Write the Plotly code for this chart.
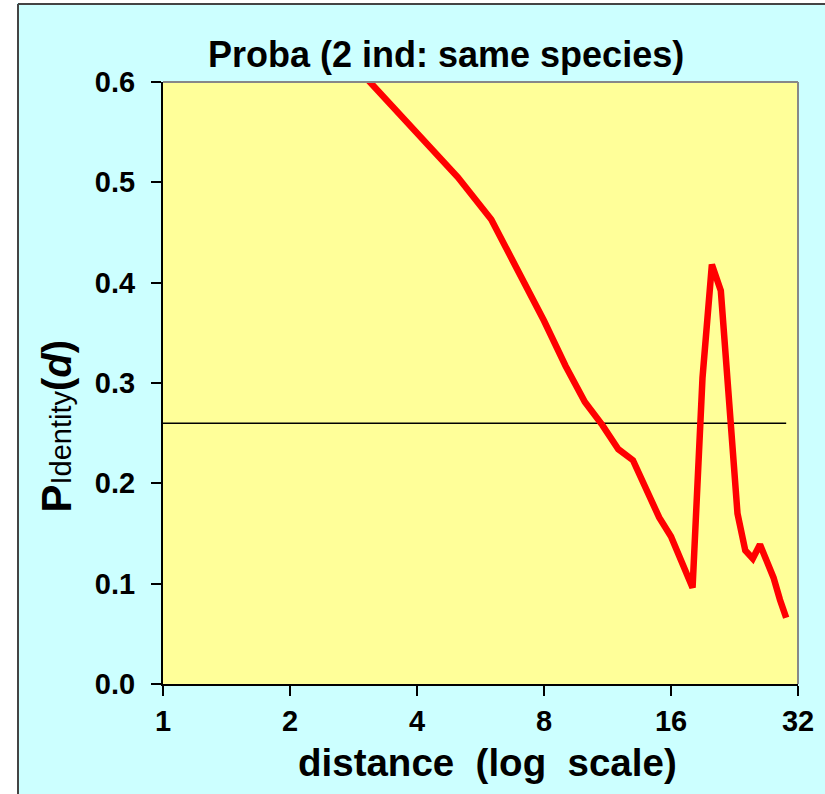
import plotly.graph_objects as go

# ---- data ----
distance = [1, 2, 3, 4, 5, 6, 7, 8, 9, 10, 11, 12, 13, 14, 15,
            16, 17, 18, 19, 20, 21, 22, 23, 24, 25, 26, 27, 28, 29, 30]
p_identity = [0.80, 0.67, 0.606, 0.548, 0.505, 0.463, 0.410, 0.362, 0.317, 0.281,
              0.258, 0.234, 0.223, 0.195, 0.166, 0.147, 0.121, 0.096, 0.305, 0.418,
              0.392, 0.280, 0.170, 0.133, 0.125, 0.139, 0.122, 0.106, 0.084, 0.066]
threshold_x = [1, 30]
threshold_y = [0.26, 0.26]
x_tickvals = [1, 2, 4, 8, 16, 32]
x_ticktext = ["1", "2", "4", "8", "16", "32"]
y_tickvals = [0.0, 0.1, 0.2, 0.3, 0.4, 0.5, 0.6]
y_ticktext = ["0.0", "0.1", "0.2", "0.3", "0.4", "0.5", "0.6"]

FONT = "Liberation Sans, Arial, sans-serif"
OFF = 0  # body margin removed by post_script
W, H = 825 - OFF, 794 - OFF
# plot area in page pixels: x 163..798, y 82..684
L = 163 - OFF
T = 82 - OFF
R = W - (798 - OFF)
B = H - (684 - OFF)
PW, PH = W - L - R, H - T - B

def px2x(px):
    return (px - OFF - L) / PW

def px2y(py):
    return (H - B - (py - OFF)) / PH

fig = go.Figure()
fig.add_trace(go.Scatter(x=threshold_x, y=threshold_y, mode="lines",
                         line=dict(color="black", width=1.5), hoverinfo="skip"))
fig.add_trace(go.Scatter(x=distance, y=p_identity, mode="lines",
                         line=dict(color="#FF0000", width=6.5)))

shapes = [
    dict(type="rect", xref="paper", yref="paper", x0=px2x(-10), x1=px2x(17),
         y0=px2y(810), y1=px2y(-10), fillcolor="white", line=dict(width=0), layer="below"),
    dict(type="rect", xref="paper", yref="paper", x0=px2x(-10), x1=px2x(840),
         y0=px2y(3), y1=px2y(-10), fillcolor="white", line=dict(width=0), layer="below"),
    dict(type="line", xref="paper", yref="paper", x0=px2x(18), x1=px2x(18),
         y0=px2y(4), y1=px2y(810), line=dict(color="#444444", width=2)),
    dict(type="line", xref="paper", yref="paper", x0=px2x(18), x1=px2x(840),
         y0=px2y(4), y1=px2y(4), line=dict(color="#444444", width=2)),
    dict(type="line", xref="paper", yref="paper", x0=0, x1=1, y0=1, y1=1,
         line=dict(color="#888888", width=2)),
    dict(type="line", xref="paper", yref="paper", x0=1, x1=1, y0=0, y1=1,
         line=dict(color="#888888", width=2)),
]

annotations = [
    dict(text="<b>Proba (2 ind: same species)</b>", xref="paper", yref="paper",
         x=px2x(445.5), y=px2y(55), xanchor="center", yanchor="middle", showarrow=False,
         font=dict(family=FONT, size=36, color="black")),
    dict(text="<b>distance  (log  scale)</b>", xref="paper", yref="paper",
         x=px2x(487.5), y=px2y(762), xanchor="center", yanchor="middle", showarrow=False,
         font=dict(family=FONT, size=38.5, color="black")),
    dict(text="<b>P</b><span style='font-size:29px'>Identity</span><b style='font-size:40px'>(<i>d</i>)</b>",
         xref="paper", yref="paper", x=px2x(56), y=px2y(425.5), xanchor="center",
         yanchor="middle", showarrow=False, textangle=-90,
         font=dict(family=FONT, size=42, color="black")),
]

fig.update_layout(
    width=W, height=H,
    margin=dict(l=L, r=R, t=T, b=B, pad=0),
    paper_bgcolor="#CCFFFF",
    plot_bgcolor="#FFFF99",
    showlegend=False,
    shapes=shapes,
    annotations=annotations,
    xaxis=dict(type="log", range=[0, 1.50515], tickvals=x_tickvals, ticktext=x_ticktext,
               showgrid=False, zeroline=False, showline=True, linecolor="black", linewidth=2,
               ticks="outside", ticklen=10, tickwidth=2, tickcolor="black",
               tickfont=dict(family=FONT, size=29, color="black", weight="bold")),
    yaxis=dict(range=[0, 0.6], tickvals=y_tickvals, ticktext=y_ticktext,
               showgrid=False, zeroline=False, showline=True, linecolor="black", linewidth=2,
               ticks="outside", ticklen=10, tickwidth=2, tickcolor="black",
               ticklabelstandoff=10,
               tickfont=dict(family=FONT, size=29, color="black", weight="bold")),
)

fig.write_html("out.html",
               config={"displayModeBar": False},
               post_script="document.body.style.margin='0';document.body.style.overflow='hidden';")
